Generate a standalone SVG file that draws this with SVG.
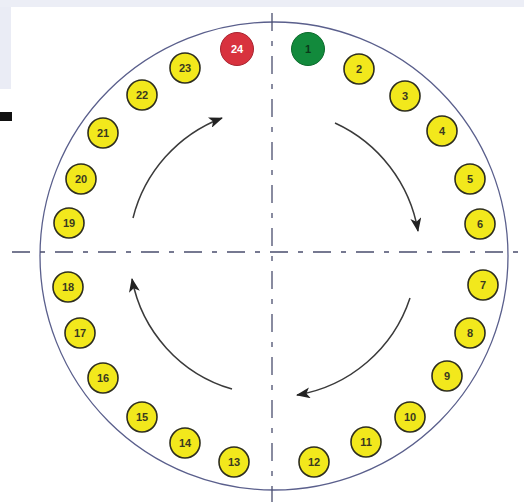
<svg xmlns="http://www.w3.org/2000/svg" width="524" height="502" viewBox="0 0 524 502">
<style>
.n circle{fill:#f2e81c;stroke:#2e2e1e;stroke-width:1.6}
.n text{font-family:"Liberation Sans",Arial,sans-serif;font-size:11px;font-weight:bold;fill:#3a3a20;text-anchor:middle;dominant-baseline:central}
.axis{stroke:#4a4e6e;stroke-width:1.3;stroke-dasharray:18 10 5 10;fill:none}
.ring{fill:none;stroke:#5a5f8c;stroke-width:1.3}
.arr{fill:none;stroke:#3a3a3a;stroke-width:1.5;marker-end:url(#ah)}
</style>
<defs>
<marker id="ah" viewBox="0 0 14 11" refX="13" refY="5.5" markerWidth="14" markerHeight="11" markerUnits="userSpaceOnUse" orient="auto">
<path d="M0,0 L14,5.5 L0,11 L3.5,5.5 Z" fill="#222"/>
</marker>
</defs>
<rect width="524" height="502" fill="#fff"/>
<rect x="0" y="0" width="524" height="7" fill="#eceef6"/>
<rect x="0" y="7" width="11" height="82" fill="#eaecf5"/>
<rect x="0" y="112" width="12" height="9" fill="#111"/>
<circle class="ring" cx="274" cy="256" r="234"/>
<g id="connectors">
<line class="axis" x1="12" y1="252" x2="524" y2="252"/>
<line class="axis" x1="272" y1="13" x2="272" y2="502"/>
<path class="arr" d="M335,123 A146,146 0 0 1 418,231"/>
<path class="arr" d="M410,298 A144,144 0 0 1 297,395"/>
<path class="arr" d="M232,389 A142,142 0 0 1 132,279"/>
<path class="arr" d="M133,218 A145,145 0 0 1 222,118"/>
</g>
<g id="n1"><circle cx="308" cy="49" r="16.5" fill="#128a3c" stroke="#0c6a2c" stroke-width="1"/><text x="308" y="49" font-family="Liberation Sans,Arial,sans-serif" font-size="11" font-weight="bold" fill="#0b3a1a" text-anchor="middle" dominant-baseline="central">1</text></g>
<g id="n2" class="n"><circle cx="359" cy="69" r="15"/><text x="359" y="69">2</text></g>
<g id="n3" class="n"><circle cx="405" cy="96" r="15"/><text x="405" y="96">3</text></g>
<g id="n4" class="n"><circle cx="442" cy="131" r="15"/><text x="442" y="131">4</text></g>
<g id="n5" class="n"><circle cx="470" cy="179" r="15"/><text x="470" y="179">5</text></g>
<g id="n6" class="n"><circle cx="480" cy="224" r="15"/><text x="480" y="224">6</text></g>
<g id="n7" class="n"><circle cx="483" cy="285" r="15"/><text x="483" y="285">7</text></g>
<g id="n8" class="n"><circle cx="470" cy="333" r="15"/><text x="470" y="333">8</text></g>
<g id="n9" class="n"><circle cx="447" cy="376" r="15"/><text x="447" y="376">9</text></g>
<g id="n10" class="n"><circle cx="410" cy="417" r="15"/><text x="410" y="417">10</text></g>
<g id="n11" class="n"><circle cx="366" cy="442" r="15"/><text x="366" y="442">11</text></g>
<g id="n12" class="n"><circle cx="314" cy="462" r="15"/><text x="314" y="462">12</text></g>
<g id="n13" class="n"><circle cx="234" cy="462" r="15"/><text x="234" y="462">13</text></g>
<g id="n14" class="n"><circle cx="185" cy="443" r="15"/><text x="185" y="443">14</text></g>
<g id="n15" class="n"><circle cx="142" cy="417" r="15"/><text x="142" y="417">15</text></g>
<g id="n16" class="n"><circle cx="103" cy="378" r="15"/><text x="103" y="378">16</text></g>
<g id="n17" class="n"><circle cx="80" cy="333" r="15"/><text x="80" y="333">17</text></g>
<g id="n18" class="n"><circle cx="68" cy="287" r="15"/><text x="68" y="287">18</text></g>
<g id="n19" class="n"><circle cx="69" cy="223" r="15"/><text x="69" y="223">19</text></g>
<g id="n20" class="n"><circle cx="81" cy="179" r="15"/><text x="81" y="179">20</text></g>
<g id="n21" class="n"><circle cx="103" cy="133" r="15"/><text x="103" y="133">21</text></g>
<g id="n22" class="n"><circle cx="142" cy="95" r="15"/><text x="142" y="95">22</text></g>
<g id="n23" class="n"><circle cx="185" cy="68" r="15"/><text x="185" y="68">23</text></g>
<g id="n24"><circle cx="237" cy="49" r="16.5" fill="#d8323e" stroke="#a82430" stroke-width="1"/><text x="237" y="49" font-family="Liberation Sans,Arial,sans-serif" font-size="11" font-weight="bold" fill="#fff" text-anchor="middle" dominant-baseline="central">24</text></g>
</svg>
